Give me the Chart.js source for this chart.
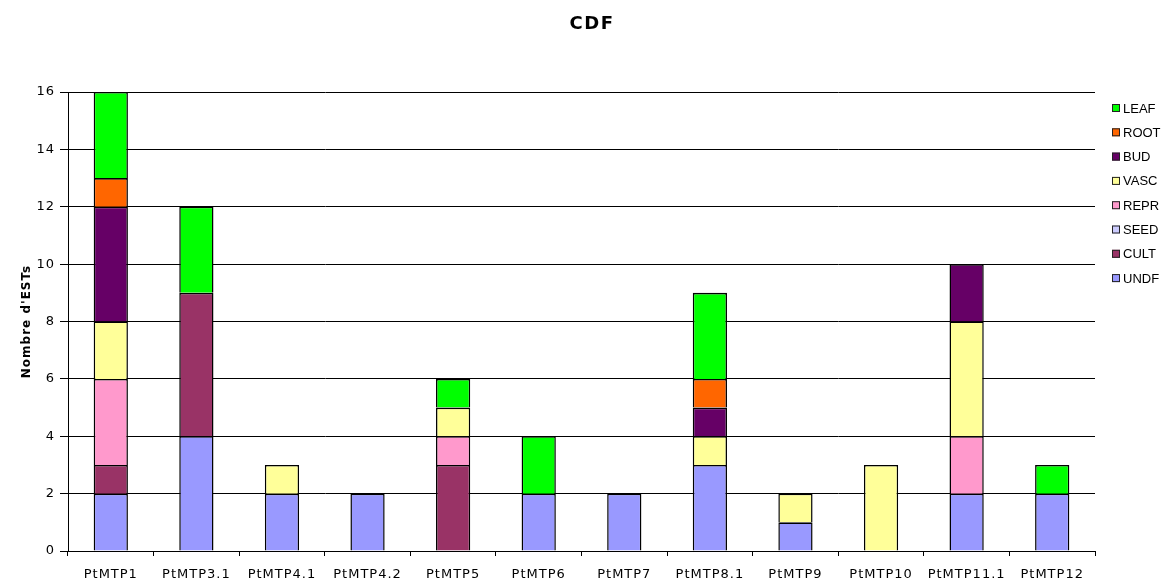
<!DOCTYPE html>
<html>
<head>
<meta charset="utf-8">
<title>CDF</title>
<script src="https://cdn.jsdelivr.net/npm/chart.js@4/dist/chart.umd.min.js"></script>
<style>
    html, body { margin: 0; padding: 0; background: #fff; }
    #wrap { width: 1165px; height: 584px; }
</style>
</head>
<body>
<div id="wrap"><canvas id="cdfChart" width="1165" height="584"></canvas></div>
<script>
// Data
const categories = ['PtMTP1', 'PtMTP3.1', 'PtMTP4.1', 'PtMTP4.2', 'PtMTP5', 'PtMTP6',
    'PtMTP7', 'PtMTP8.1', 'PtMTP9', 'PtMTP10', 'PtMTP11.1', 'PtMTP12'];
const undf = [2, 4, 2, 2, 0, 2, 2, 3, 1, 0, 2, 2];
const cult = [1, 5, 0, 0, 3, 0, 0, 0, 0, 0, 0, 0];
const seed = [0, 0, 0, 0, 0, 0, 0, 0, 0, 0, 0, 0];
const repr = [3, 0, 0, 0, 1, 0, 0, 0, 0, 0, 2, 0];
const vasc = [2, 0, 1, 0, 1, 0, 0, 1, 1, 3, 4, 0];
const bud  = [4, 0, 0, 0, 0, 0, 0, 1, 0, 0, 2, 0];
const root = [1, 0, 0, 0, 0, 0, 0, 1, 0, 0, 0, 0];
const leaf = [3, 3, 0, 0, 1, 2, 0, 3, 0, 0, 0, 1];
const yTicks = [0, 2, 4, 6, 8, 10, 12, 14, 16];

const series = [
    { label: 'UNDF', values: undf, color: '#9999FF' },
    { label: 'CULT', values: cult, color: '#993366' },
    { label: 'SEED', values: seed, color: '#CCCCFF' },
    { label: 'REPR', values: repr, color: '#FF99CC' },
    { label: 'VASC', values: vasc, color: '#FFFF99' },
    { label: 'BUD',  values: bud,  color: '#660066' },
    { label: 'ROOT', values: root, color: '#FF6600' },
    { label: 'LEAF', values: leaf, color: '#00FF00' }
];

// title + legend drawn by hand so they can sit where Excel put them
const overlayPlugin = {
    id: 'overlay',
    beforeLayout(chart) {
        chart.ctx.letterSpacing = '1px';
    },
    beforeDraw(chart) {
        chart.ctx.letterSpacing = '1px';
    },
    afterDraw(chart) {
        const ctx = chart.ctx;
        ctx.save();

        ctx.letterSpacing = '1.5px';
        ctx.fillStyle = '#000';
        ctx.font = 'bold 18px "DejaVu Sans"';
        ctx.textAlign = 'center';
        ctx.textBaseline = 'middle';
        ctx.fillText('CDF', 592, 24);

        ctx.letterSpacing = '0px';
        ctx.font = '13px "Liberation Sans"';
        ctx.textAlign = 'left';
        const items = chart.data.datasets.slice().reverse();
        items.forEach((ds, i) => {
            const y = 108 + i * 24.3;
            ctx.fillStyle = ds.backgroundColor;
            ctx.fillRect(1112, y - 4, 8, 8);
            ctx.strokeStyle = '#222';
            ctx.lineWidth = 1;
            ctx.strokeRect(1112.5, y - 3.5, 7, 7);
            ctx.fillStyle = '#000';
            ctx.fillText(ds.label, 1123, y + 1);
        });
        ctx.restore();
    }
};

const ctx = document.getElementById('cdfChart').getContext('2d');
const chart = new Chart(ctx, {
    type: 'bar',
    data: {
        labels: categories,
        datasets: series.map(s => ({
            label: s.label,
            data: s.values.map(v => v || null),
            backgroundColor: s.color,
            borderColor: '#000',
            // no bottom edge: the segment below draws the separator
            borderWidth: { top: 1.6, right: 1.5, bottom: 0, left: 1.5 },
            borderSkipped: false,
            barPercentage: 0.40,
            categoryPercentage: 1.0
        }))
    },
    options: {
        responsive: false,
        animation: false,
        events: [],
        layout: { padding: { top: 92, right: 70, bottom: 0, left: 0 } },
        plugins: {
            legend: { display: false },
            title: { display: false },
            tooltip: { enabled: false }
        },
        scales: {
            x: {
                stacked: true,
                afterFit: scale => { scale.height = 33; },
                grid: {
                    display: true,
                    drawOnChartArea: false,
                    drawTicks: true,
                    tickLength: 5,
                    color: '#000',
                    offset: true
                },
                border: { color: '#000', width: 1 },
                ticks: {
                    color: '#000',
                    padding: 11,
                    maxRotation: 0,
                    autoSkip: false,
                    font: { family: 'DejaVu Sans', size: 13 }
                }
            },
            y: {
                stacked: true,
                min: 0,
                max: 16,
                afterFit: scale => { scale.width = 68; },
                afterBuildTicks: scale => {
                    scale.ticks = yTicks.map(v => ({ value: v }));
                },
                grid: {
                    color: '#000',
                    lineWidth: 1,
                    tickLength: 8
                },
                border: { color: '#000', width: 1 },
                ticks: {
                    color: '#000',
                    padding: 5,
                    font: { family: 'DejaVu Sans', size: 13 }
                },
                title: {
                    display: true,
                    text: "Nombre d'ESTs",
                    color: '#000',
                    padding: { top: 20, bottom: 0 },
                    font: { family: 'DejaVu Sans', size: 12, weight: 'bold' }
                }
            }
        }
    },
    plugins: [overlayPlugin]
});
</script>
</body>
</html>
